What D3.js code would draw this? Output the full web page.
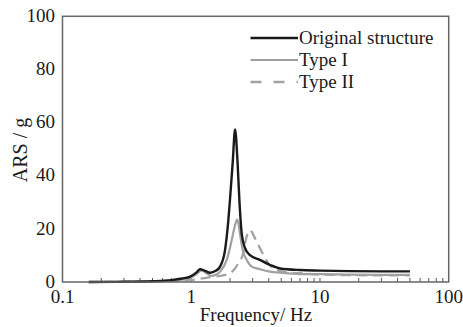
<!DOCTYPE html>
<html><head><meta charset="utf-8">
<script src="https://cdn.jsdelivr.net/npm/d3@7"></script>
<style>body{margin:0;background:#fff}svg{display:block}text{font-family:"Liberation Serif","Times New Roman",serif;fill:#1a1a1a}</style>
</head><body><svg id="c" width="463" height="327"></svg>
<script>
const freqOriginal = [0.16,0.3,0.5,0.7,0.85,0.98,1.1,1.17,1.28,1.4,1.55,1.675,1.83,1.94,2.0,2.1,2.19,2.29,2.365,2.47,2.62,2.86,3.42,4.1,4.9,7,10,17,30,50];
const original     = [0,0.1,0.3,0.7,1.3,2.0,3.6,4.8,4.2,3.5,4.2,5.8,12,23,31,45,57.4,45,31,18,12.7,10.1,8.3,6.4,5.1,4.5,4.3,4.1,4.0,4.0];
const freqType1 = [0.16,0.3,0.5,0.7,0.85,0.98,1.1,1.206,1.32,1.44,1.55,1.675,1.887,2.064,2.19,2.28,2.39,2.51,2.70,2.95,3.42,4.1,4.9,7,10,17,30,50];
const type1     = [0,0.05,0.2,0.5,0.9,1.5,3.0,4.4,3.2,2.3,2.7,3.9,8.3,15.8,21.4,23.5,18.3,12,8.3,5.8,4.8,3.9,3.5,3.0,3.0,2.8,2.7,2.7];
const freqType2 = [0.16,0.5,1.0,1.4,1.943,2.32,2.54,2.62,2.86,3.13,3.53,3.97,4.62,5.86,7,10,17,30,50];
const type2     = [0,0.2,0.8,1.8,3.0,7,11,14.6,19.5,16.4,11.4,7,4.5,3.5,3.3,2.8,2.6,2.5,2.5];
const xTicks = [0.1,1,10,100];
const yTicks = [0,20,40,60,80,100];
const seriesNames = ["Original structure","Type I","Type II"];

const svg = d3.select("#c");
const L=62.5, R=448.7, T=16.3, B=282;
const x = d3.scaleLog().domain([0.1,100]).range([L,R]);
const y = d3.scaleLinear().domain([0,100]).range([B,T]);

const minor=[];
[0.1,1,10].forEach(d=>{for(let k=1;k<=9;k++){const v=d*k; if(v>0.1&&v<100) minor.push(v);}});
svg.append("g").selectAll("line").data(minor).join("line")
  .attr("x1",d=>x(d)).attr("x2",d=>x(d)).attr("y1",B).attr("y2",B-4)
  .attr("stroke","#555").attr("stroke-width",1);

const line = (fs)=>d3.line().x((d,i)=>x(fs[i])).y(d=>y(d)).curve(d3.curveMonotoneX);
const g = svg.append("g");
g.append("path").datum(type2).attr("d",line(freqType2)).attr("fill","none")
  .attr("stroke","#a3a3a3").attr("stroke-width",2.3).attr("stroke-dasharray","10,6");
g.append("path").datum(type1).attr("d",line(freqType1)).attr("fill","none")
  .attr("stroke","#a0a0a0").attr("stroke-width",2.2);
g.append("path").datum(original).attr("d",line(freqOriginal)).attr("fill","none")
  .attr("stroke","#1a1a1a").attr("stroke-width",2.4);

svg.append("rect").attr("x",L).attr("y",T).attr("width",R-L).attr("height",B-T)
  .attr("fill","none").attr("stroke","#666").attr("stroke-width",1.5);

svg.append("g").selectAll("text").data(xTicks).join("text")
  .attr("x",d=>x(d)).attr("y",303).attr("text-anchor","middle").attr("font-size",19)
  .text(d=>d);
svg.append("g").selectAll("text").data(yTicks).join("text")
  .attr("x",55).attr("y",d=>y(d)).attr("dy","0.3em").attr("text-anchor","end").attr("font-size",19)
  .text(d=>d);

svg.append("text").attr("x",256).attr("y",321).attr("text-anchor","middle").attr("font-size",19)
  .text("Frequency/ Hz");
svg.append("text").attr("transform","translate(27,150) rotate(-90)").attr("text-anchor","middle")
  .attr("font-size",20).text("ARS / g");

const lg = [{c:"#1a1a1a",d:null,w:2.4},{c:"#a0a0a0",d:null,w:2.2},{c:"#a3a3a3",d:"11,12",w:2.3}];
seriesNames.forEach((n,i)=>{
  const yy = 38 + i*22;
  svg.append("line").attr("x1",250.5).attr("x2",298).attr("y1",yy).attr("y2",yy)
    .attr("stroke",lg[i].c).attr("stroke-width",lg[i].w).attr("stroke-dasharray",lg[i].d);
  svg.append("text").attr("x",299).attr("y",yy).attr("dy","0.33em").attr("font-size",19).text(n);
});
</script></body></html>
